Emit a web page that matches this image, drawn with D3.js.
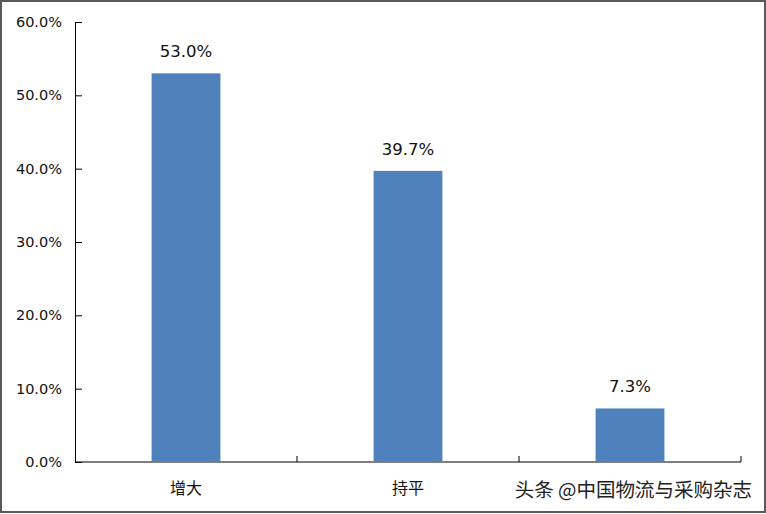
<!DOCTYPE html>
<html><head><meta charset="utf-8">
<script src="https://cdn.jsdelivr.net/npm/d3@7/dist/d3.min.js"></script>
<style>html,body{margin:0;padding:0;background:#fff;}</style>
</head><body>
<script>
const categories = ["增大", "持平", "减少"];
const values = [53.0, 39.7, 7.3];
const yTicks = [0, 10, 20, 30, 40, 50, 60];
const watermark = "头条 @中国物流与采购杂志";

const W = 766, H = 514;
const svg = d3.select("body").append("svg").attr("width", W).attr("height", H);
svg.append("rect").attr("x", 1).attr("y", 1).attr("width", W - 2).attr("height", H - 3)
  .attr("fill", "#fff").attr("stroke", "#5a5a5a").attr("stroke-width", 2);

const x0 = 75, x1 = 741, y0 = 462, y1 = 22;
const x = d3.scaleBand().domain(categories).range([x0, x1]).paddingInner(0.69).paddingOuter(0.345);
const y = d3.scaleLinear().domain([0, 60]).range([y0, y1]);
const font = "'DejaVu Sans', Verdana, sans-serif";

// y axis
const ya = svg.append("g").attr("transform", `translate(${x0},0)`)
  .call(d3.axisLeft(y).tickValues(yTicks).tickFormat(d => d.toFixed(1) + "%").tickSizeInner(-7).tickSizeOuter(0).tickPadding(13));
ya.select(".domain").attr("stroke", "#000");
ya.selectAll(".tick line").attr("stroke", "#000");
ya.selectAll("text").attr("font-family", font).attr("font-size", 14.5).attr("fill", "#111");

// x axis
const xa = svg.append("g").attr("transform", `translate(0,${y0})`);
xa.append("line").attr("x1", x0).attr("x2", x1).attr("stroke", "#000");
const bounds = d3.range(categories.length + 1).map(i => x0 + i * x.step());
xa.selectAll("line.t").data(bounds.slice(1)).enter().append("line").attr("class", "t")
  .attr("x1", d => d).attr("x2", d => d).attr("y1", 0).attr("y2", -6).attr("stroke", "#000");

// bars
svg.selectAll("rect.bar").data(values).enter().append("rect").attr("class", "bar")
  .attr("x", (d, i) => x(categories[i])).attr("width", x.bandwidth())
  .attr("y", d => y(d)).attr("height", d => y0 - y(d)).attr("fill", "#4f81bd");

// value labels
svg.selectAll("text.val").data(values).enter().append("text").attr("class", "val")
  .attr("x", (d, i) => x(categories[i]) + x.bandwidth() / 2).attr("y", d => y(d) - 16)
  .attr("text-anchor", "middle").attr("font-family", font).attr("font-size", 16.5).attr("fill", "#111")
  .text(d => d.toFixed(1) + "%");

// category labels
svg.selectAll("text.cat").data(categories).enter().append("text").attr("class", "cat")
  .attr("x", d => x(d) + x.bandwidth() / 2).attr("y", 494)
  .attr("text-anchor", "middle").attr("font-family", "'Noto Sans CJK SC', sans-serif").attr("font-size", 16).attr("fill", "#111")
  .text(d => d);

// watermark
svg.append("text").attr("x", 752).attr("y", 497).attr("text-anchor", "end")
  .attr("font-family", "'Noto Sans CJK SC', sans-serif").attr("font-size", 19.5)
  .attr("fill", "#222").attr("stroke", "#fff").attr("stroke-width", 4).attr("paint-order", "stroke")
  .text(watermark);
</script>
</body></html>
